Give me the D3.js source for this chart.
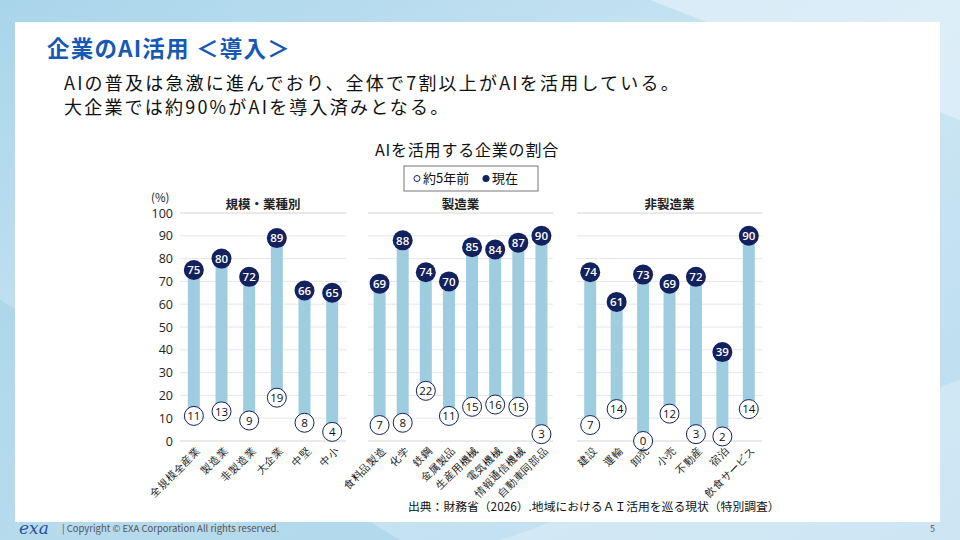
<!DOCTYPE html>
<html>
<head>
<meta charset="utf-8">
<script src="https://cdn.jsdelivr.net/npm/d3@7"></script>
<style>
  body { margin: 0; }
  svg { display: block; font-family: "Noto Sans CJK JP", "Noto Sans", sans-serif; }
</style>
</head>
<body>
<div id="chart"></div>
<script>
// data
const groupNames = ["規模・業種別", "製造業", "非製造業"];
const catsScale = ["全規模全産業", "製造業", "非製造業", "大企業", "中堅", "中小"];
const nowScale = [75, 80, 72, 89, 66, 65];
const beforeScale = [11, 13, 9, 19, 8, 4];
const catsMfg = ["食料品製造", "化学", "鉄鋼", "金属製品", "生産用機械", "電気機械", "情報通信機械", "自動車同部品"];
const nowMfg = [69, 88, 74, 70, 85, 84, 87, 90];
const beforeMfg = [7, 8, 22, 11, 15, 16, 15, 3];
const catsNonMfg = ["建設", "運輸", "卸売", "小売", "不動産", "宿泊", "飲食サービス"];
const nowNonMfg = [74, 61, 73, 69, 72, 39, 90];
const beforeNonMfg = [7, 14, 0, 12, 3, 2, 14];
const yTicks = [0, 10, 20, 30, 40, 50, 60, 70, 80, 90, 100];

const groups = [
  { name: groupNames[0], cats: catsScale, now: nowScale, before: beforeScale, range: [180, 346] },
  { name: groupNames[1], cats: catsMfg, now: nowMfg, before: beforeMfg, range: [368, 553] },
  { name: groupNames[2], cats: catsNonMfg, now: nowNonMfg, before: beforeNonMfg, range: [577, 762] }
];

const navy = "#13215e";
const barColor = "#9ecde0";

const svg = d3.select("#chart").append("svg")
  .attr("width", 960)
  .attr("height", 540);

// background
const defs = svg.append("defs");
const grad = defs.append("linearGradient").attr("id", "bg")
  .attr("x1", "0").attr("y1", "0").attr("x2", "1").attr("y2", "1");
grad.append("stop").attr("offset", "0").attr("stop-color", "#a9d5ea");
grad.append("stop").attr("offset", "0.5").attr("stop-color", "#cde6f4");
grad.append("stop").attr("offset", "1").attr("stop-color", "#b9dcef");
svg.append("rect").attr("width", 960).attr("height", 540).attr("fill", "url(#bg)");
svg.append("path").attr("d", "M650,0 L960,0 L960,120 Z").attr("fill", "#e3f1fa").attr("opacity", 0.7);
svg.append("path").attr("d", "M0,300 L0,540 L400,540 Z").attr("fill", "#9fcfe6").attr("opacity", 0.5);
svg.append("path").attr("d", "M500,540 L960,380 L960,540 Z").attr("fill", "#dcecf7").attr("opacity", 0.6);

// white card
svg.append("rect").attr("x", 15).attr("y", 22).attr("width", 925).attr("height", 500).attr("fill", "#fff");

// title & text
svg.append("text").attr("x", 47).attr("y", 57)
  .attr("font-size", 22.5).attr("font-weight", "bold").attr("fill", "#1559b5")
  .attr("letter-spacing", 1.2)
  .text("企業のAI活用 ＜導入＞");
svg.append("text").attr("x", 64).attr("y", 90).attr("font-size", 18).attr("fill", "#111")
  .attr("letter-spacing", 2.2)
  .text("AIの普及は急激に進んでおり、全体で7割以上がAIを活用している。");
svg.append("text").attr("x", 64).attr("y", 114).attr("font-size", 18).attr("fill", "#111")
  .attr("letter-spacing", 2.2)
  .text("大企業では約90%がAIを導入済みとなる。");

svg.append("text").attr("x", 467).attr("y", 156).attr("text-anchor", "middle")
  .attr("font-size", 16).attr("letter-spacing", 0.8).attr("fill", "#111").text("AIを活用する企業の割合");

// legend
const legend = svg.append("g").attr("transform", "translate(404,166)");
legend.append("rect").attr("width", 134).attr("height", 25)
  .attr("fill", "#fff").attr("stroke", "#777").attr("stroke-width", 1);
legend.append("circle").attr("cx", 13).attr("cy", 12.5).attr("r", 3)
  .attr("fill", "#fff").attr("stroke", navy).attr("stroke-width", 1);
legend.append("text").attr("x", 19).attr("y", 17).attr("font-size", 13).attr("fill", "#111").text("約5年前");
legend.append("circle").attr("cx", 82).attr("cy", 12.5).attr("r", 3.5).attr("fill", navy);
legend.append("text").attr("x", 88).attr("y", 17).attr("font-size", 13).attr("fill", "#111").text("現在");

// y scale
const y = d3.scaleLinear().domain([0, 100]).range([441, 213]);

// y axis labels
const yAxis = svg.append("g").attr("transform", "translate(173,0)")
  .call(d3.axisLeft(y).tickValues(yTicks).tickSize(0).tickPadding(0));
yAxis.select(".domain").remove();
yAxis.selectAll("text").attr("font-size", 12.5).attr("fill", "#222")
  .attr("font-family", "'Open Sans', sans-serif");
svg.append("text").attr("x", 151).attr("y", 202).attr("font-size", 11.5).attr("fill", "#222").text("(%)");

groups.forEach((g) => {
  const x = d3.scalePoint().domain(g.cats).range(g.range).padding(0.5);
  const panel = svg.append("g");

  // grid
  panel.selectAll("line.grid").data(yTicks).join("line")
    .attr("class", "grid")
    .attr("x1", g.range[0]).attr("x2", g.range[1])
    .attr("y1", (d) => y(d)).attr("y2", (d) => y(d))
    .attr("stroke", (d) => (d === 0 || d === 100) ? "#d4d4d4" : "#e6e6e6")
    .attr("stroke-width", 1);

  // panel title
  panel.append("text").attr("x", (g.range[0] + g.range[1]) / 2).attr("y", 209)
    .attr("text-anchor", "middle").attr("font-size", 12.5).attr("font-weight", "bold")
    .attr("fill", "#222").text(g.name);

  const rows = g.cats.map((c, i) => ({ cat: c, now: g.now[i], before: g.before[i] }));

  // bars from before to now
  panel.selectAll("rect.bar").data(rows).join("rect")
    .attr("class", "bar")
    .attr("x", (d) => x(d.cat) - 6)
    .attr("width", 12)
    .attr("y", (d) => y(d.now))
    .attr("height", (d) => y(d.before) - y(d.now))
    .attr("fill", barColor);

  // before markers
  const pts = panel.selectAll("g.before").data(rows).join("g")
    .attr("class", "before")
    .attr("transform", (d) => `translate(${x(d.cat)},${y(d.before)})`);
  pts.append("circle").attr("r", 9.5).attr("fill", "#fff").attr("stroke", navy).attr("stroke-width", 1);
  pts.append("text").attr("text-anchor", "middle").attr("dy", "0.36em")
    .attr("font-size", 11.5).attr("fill", "#111").attr("font-family", "'Open Sans', sans-serif")
    .text((d) => d.before);

  // now markers
  const cur = panel.selectAll("g.now").data(rows).join("g")
    .attr("class", "now")
    .attr("transform", (d) => `translate(${x(d.cat)},${y(d.now)})`);
  cur.append("circle").attr("r", 10).attr("fill", navy);
  cur.append("text").attr("text-anchor", "middle").attr("dy", "0.36em")
    .attr("font-size", 11.5).attr("font-weight", "600").attr("fill", "#fff")
    .attr("font-family", "'Open Sans', sans-serif")
    .text((d) => d.now);

  // x labels
  const xAxis = panel.append("g").attr("transform", "translate(0,449)")
    .call(d3.axisBottom(x).tickSize(0).tickPadding(0));
  xAxis.select(".domain").remove();
  xAxis.selectAll("text")
    .attr("font-size", 10.5).attr("fill", "#111")
    .attr("text-anchor", "end")
    .attr("dx", "0.3em").attr("dy", "0.6em")
    .attr("transform", "rotate(-45)");
});

// source
svg.append("text").attr("x", 408).attr("y", 511).attr("font-size", 11.8).attr("fill", "#111")
  .text("出典：財務省（2026）.地域におけるＡＩ活用を巡る現状（特別調査）");

// footer
svg.append("text").attr("x", 19).attr("y", 534).attr("font-size", 17).attr("font-style", "italic")
  .attr("font-family", "'DejaVu Serif', serif").attr("fill", "#2b4f9e").text("exa");
svg.append("text").attr("x", 62).attr("y", 532).attr("font-size", 9.5).attr("fill", "#555")
  .text("| Copyright © EXA Corporation All rights reserved.");
svg.append("text").attr("x", 930).attr("y", 532).attr("font-size", 9).attr("fill", "#555").text("5");
</script>
</body>
</html>
